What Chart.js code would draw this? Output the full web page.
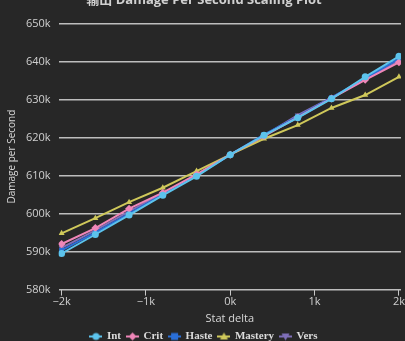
<!DOCTYPE html>
<html>
<head>
<meta charset="utf-8">
<script src="https://cdn.jsdelivr.net/npm/chart.js@4"></script>
<style>
  html,body{margin:0;padding:0;background:#272727;overflow:hidden;}
  #wrap{position:relative;width:405px;height:360px;top:-8px;}
</style>
</head>
<body>
<div id="wrap"><canvas id="chart"></canvas></div>
<script>
// valori (in migliaia)
const statDelta = [-2000,-1600,-1200,-800,-400,0,400,800,1200,1600,2000];
const intDps     = [589.5,594.5,599.6,604.8,609.8,615.5,620.6,625.2,630.2,636.0,641.4];
const critDps    = [592.0,596.2,601.3,605.5,610.3,615.5,620.4,625.3,630.3,635.2,639.8];
const hasteDps   = [590.3,595.0,600.0,605.0,610.0,615.5,620.8,625.5,630.5,635.6,640.8];
const masteryDps = [594.8,598.8,603.0,606.8,611.2,615.5,619.7,623.3,627.8,631.2,636.0];
const versDps    = [591.0,595.6,600.6,605.3,610.2,615.5,620.5,625.9,630.5,635.3,640.2];
const xTicks = [-2000,-1000,0,1000,2000];
const yTicks = [580,590,600,610,620,630,640,650];

const SERIES = [
  {label:'Int',     data:intDps,     color:'#5cc3ec', style:'circle',   rot:0},
  {label:'Crit',    data:critDps,    color:'#ef86b8', style:'rectRot',  rot:0},
  {label:'Haste',   data:hasteDps,   color:'#2a6fd8', style:'rect',     rot:0},
  {label:'Mastery', data:masteryDps, color:'#cfc85a', style:'triangle', rot:0},
  {label:'Vers',    data:versDps,    color:'#7f6fb8', style:'triangle', rot:180}
];

// icona legenda: linea + marker
function legendIcon(s){
  const c = document.createElement('canvas');
  c.width = 13; c.height = 10;
  const g = c.getContext('2d');
  g.strokeStyle = s.color; g.fillStyle = s.color; g.lineWidth = 2;
  g.beginPath(); g.moveTo(0,5); g.lineTo(13,5); g.stroke();
  g.save(); g.translate(6.5,5); g.rotate(s.rot*Math.PI/180);
  g.beginPath();
  if(s.style==='circle'){ g.arc(0,0,3.5,0,Math.PI*2); }
  else if(s.style==='rect'){ g.rect(-3.5,-3.5,7,7); }
  else if(s.style==='rectRot'){ g.moveTo(0,-4); g.lineTo(4,0); g.lineTo(0,4); g.lineTo(-4,0); g.closePath(); }
  else { g.moveTo(0,-4); g.lineTo(4,3); g.lineTo(-4,3); g.closePath(); }
  g.fill(); g.restore();
  return c;
}

new Chart(document.getElementById('chart'), {
  type:'line',
  data:{
    datasets: SERIES.map(s=>({
      label:s.label,
      data:statDelta.map((x,i)=>({x:x, y:s.data[i]})),
      borderColor:s.color,
      backgroundColor:s.color,
      borderWidth:2,
      pointStyle:s.style,
      pointRotation:s.rot,
      pointRadius:s.style==='rectRot'?4:3.5,
      pointBorderWidth:0,
      tension:0
    }))
  },
  options:{
    responsive:true,
    maintainAspectRatio:false,
    animation:false,
    layout:{padding:{left:6,right:3,top:0,bottom:0}},
    plugins:{
      title:{
        display:true,
        text:'输出 Damage Per Second Scaling Plot',
        color:'#d0d0d0',
        font:{family:'"Open Sans", "Noto Sans CJK SC", sans-serif', size:13},
        padding:{top:0,bottom:16}
      },
      legend:{
        position:'bottom',
        labels:{
          color:'#dcdcdc',
          font:{family:'"Liberation Serif", serif', size:11, weight:'bold'},
          usePointStyle:true,
          boxWidth:13, boxHeight:10,
          padding:6,
          generateLabels:(chart)=>SERIES.map((s,i)=>({
            text:s.label, fontColor:'#dcdcdc', pointStyle:legendIcon(s),
            datasetIndex:i, hidden:false, lineWidth:0, strokeStyle:'transparent', fillStyle:'transparent'
          }))
        }
      },
      tooltip:{enabled:false}
    },
    scales:{
      x:{
        type:'linear',
        min:-2035, max:2024,
        afterBuildTicks:(ax)=>{ ax.ticks = xTicks.map(v=>({value:v})); },
        grid:{drawOnChartArea:false, drawTicks:true, tickLength:6, color:'#c8c8c8', lineWidth:1},
        border:{display:false},
        ticks:{
          color:'#d0d0d0', padding:0, maxRotation:0,
          font:{family:'"Open Sans", sans-serif', size:11},
          callback:(v)=> (v<0?'\u2212':'') + Math.abs(v/1000) + 'k'
        },
        title:{display:true, text:'Stat delta', color:'#d8d8d8',
          font:{family:'"Open Sans", sans-serif', size:11}, padding:{top:3,bottom:0}}
      },
      y:{
        min:580, max:650,
        afterBuildTicks:(ax)=>{ ax.ticks = yTicks.map(v=>({value:v})); },
        grid:{color:'#bdbdbd', lineWidth:1.5, drawTicks:false},
        border:{display:false},
        ticks:{
          color:'#d0d0d0', padding:8,
          font:{family:'"Open Sans", sans-serif', size:11},
          callback:(v)=> v + 'k'
        },
        title:{display:true, text:'Damage per Second', color:'#d8d8d8',
          font:{family:'"Open Sans", sans-serif', size:10}, padding:{top:0,bottom:0}}
      }
    }
  }
});
</script>
</body>
</html>
